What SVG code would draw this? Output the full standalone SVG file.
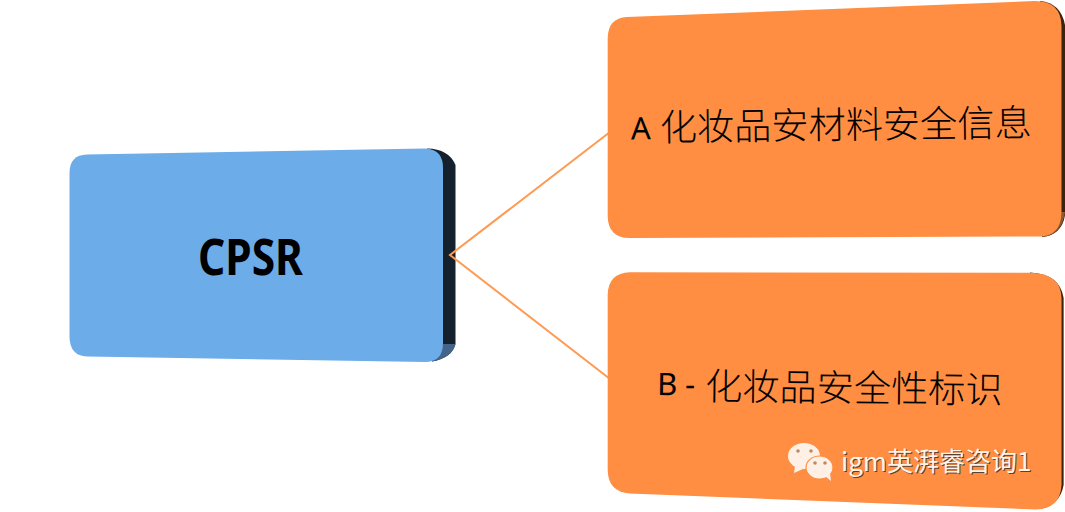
<svg xmlns="http://www.w3.org/2000/svg" width="1065" height="512" viewBox="0 0 1065 512">
<style>
.cjk{font-family:"Noto Sans CJK SC","Noto Sans",sans-serif}
.label{font-size:37.200px;font-weight:300;fill:#000}
.latin{font-family:"Noto Sans",sans-serif;font-size:31px;fill:#000}
.or{fill:#ff8d42}
.side{fill:#3a2410}
.wm{font-size:26px;fill:#fff3ea}
.wms{font-size:26px;fill:#5a4030}
.bub{fill:#fff0e6}
.dot{fill:#c08a60}
</style>
<rect width="1065" height="512" fill="#ffffff"/>
<g id="node-cpsr">
<path d="M427 148.500Q449 149 455.500 165V344Q452 358 432 361.500Z" fill="#14202c"/>
<path d="M443 344H455.500Q452 358 432 361.500Z" fill="#45648a"/>
<path d="M87 154.500L425 148.500Q443 149 443 168V343Q443 362 425 362L87 356.500Q70 356 69.500 337V173Q69.500 155 87 154.500Z" fill="#6cace9"/>
<text x="250.500" y="275" text-anchor="middle" font-family="'Noto Sans',sans-serif" font-weight="700" font-size="51" textLength="105" lengthAdjust="spacingAndGlyphs" fill="#000">CPSR</text>
</g>
<g id="connectors" fill="none" stroke="#ff9a52" stroke-width="2">
<path d="M610 132L450 255L610 379"/>
</g>
<g id="node-a">
<path d="M1040 1Q1061 3 1065 25V215Q1062 235 1042 237Z" class="side"/>
<path d="M1061 212H1065Q1062 235 1042 237Z" fill="#8a5a30"/>
<path d="M627 17L1035 1Q1061 1 1061.500 26V212Q1061 236 1040 236.500L630 238Q608 238 607.700 216V38Q608 18 627 17Z" class="or"/>
<g transform="rotate(-0.7 631 141)"><text x="631" y="139.500" class="latin">A</text><text x="660" y="141" class="cjk label">化妆品安材料安全信息</text></g>
</g>
<g id="node-b">
<path d="M1030 272.500Q1060 274 1063.600 298V485Q1060 505 1040 509Z" class="side"/>
<path d="M630 272.300L1030 272.700Q1061 273 1061.500 298V485Q1060 509 1036 509.500L630 493.500Q608 492 607.700 470V295Q608 273 630 272.300Z" class="or"/>
<g transform="rotate(0.7 658 398)"><text x="657" y="395" class="latin">B</text><text x="685" y="395" class="latin">-</text><text x="705" y="399" class="cjk label">化妆品安全性标识</text></g>
</g>
<g id="watermark">
<ellipse cx="804" cy="456" rx="16" ry="13" class="bub"/>
<path d="M795 466L794 473L803 469Z" class="bub"/>
<circle cx="798" cy="451" r="1.800" class="dot"/>
<circle cx="811" cy="451" r="1.800" class="dot"/>
<ellipse cx="819.500" cy="467.500" rx="13.500" ry="11.500" fill="#fff0e6" stroke="#ff8d42" stroke-width="1.200"/>
<path d="M825 476L831 481L830 473Z" class="bub"/>
<circle cx="815" cy="463" r="1.800" class="dot"/>
<circle cx="825" cy="463" r="1.800" class="dot"/>
<text x="842" y="472" class="cjk wms">igm英湃睿咨询1</text>
<text x="841" y="471" class="cjk wm">igm英湃睿咨询1</text>
</g>
</svg>
